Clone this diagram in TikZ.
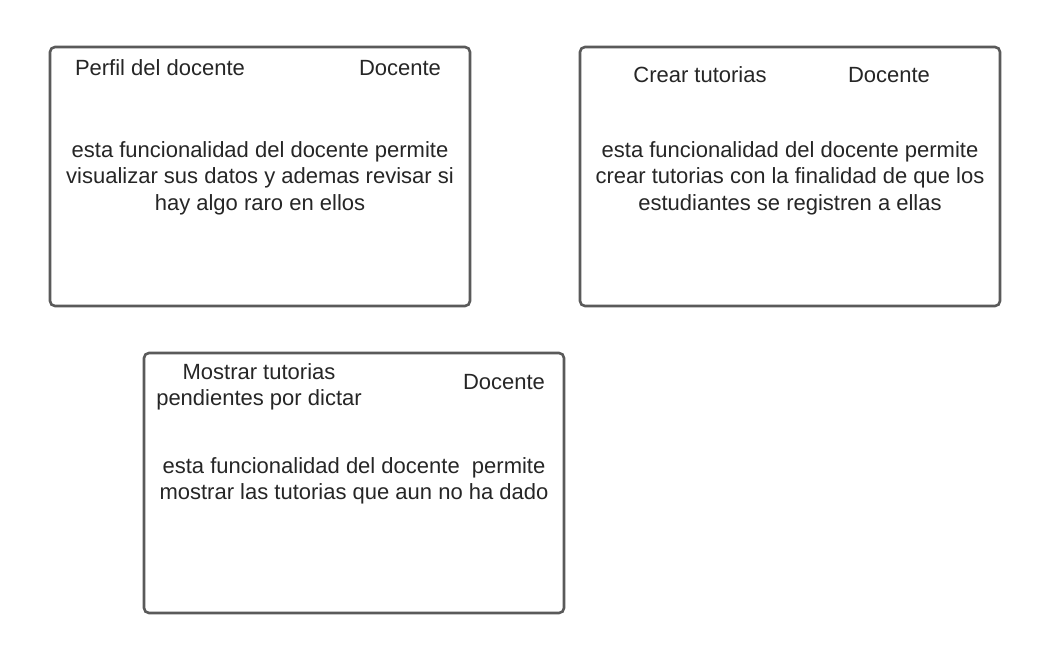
\documentclass[tikz,border=0pt]{standalone}
\usepackage{fontspec}
\setmainfont{Liberation Sans}
\definecolor{boxline}{HTML}{5A5A5A}
\definecolor{txt}{HTML}{262626}
\begin{document}
\begin{tikzpicture}[x=1pt,y=-1pt,
  card/.style={draw=boxline,line width=2.6pt,rounded corners=5pt,fill=white},
  lbl/.style={text=txt,font=\fontsize{22}{26.5}\selectfont,align=center,inner sep=0pt,anchor=center}]
\useasboundingbox[fill=white] (0,0) rectangle (1049,654);
\draw[card] (50,47) rectangle (470,306);
\draw[card] (580,47) rectangle (1000,306);
\draw[card] (144,353) rectangle (564,613);
% box 1
\node[lbl] (t1) at (160,68) {Perfil del docente};
\node[lbl] (d1) at (400,68) {Docente};
\node[lbl] (b1) at (260,178) {esta funcionalidad del docente permite\\visualizar sus datos y ademas revisar si\\hay algo raro en ellos};
% box 2
\node[lbl] (t2) at (700,75) {Crear tutorias};
\node[lbl] (d2) at (889,75) {Docente};
\node[lbl] (b2) at (790,178) {esta funcionalidad del docente permite\\crear tutorias con la finalidad de que los\\estudiantes se registren a ellas};
% box 3
\node[lbl] (t3) at (259,387) {Mostrar tutorias\\pendientes por dictar};
\node[lbl] (d3) at (504,382) {Docente};
\node[lbl] (b3) at (354,481) {esta funcionalidad del docente\ \ permite\\mostrar las tutorias que aun no ha dado};
\end{tikzpicture}
\end{document}
